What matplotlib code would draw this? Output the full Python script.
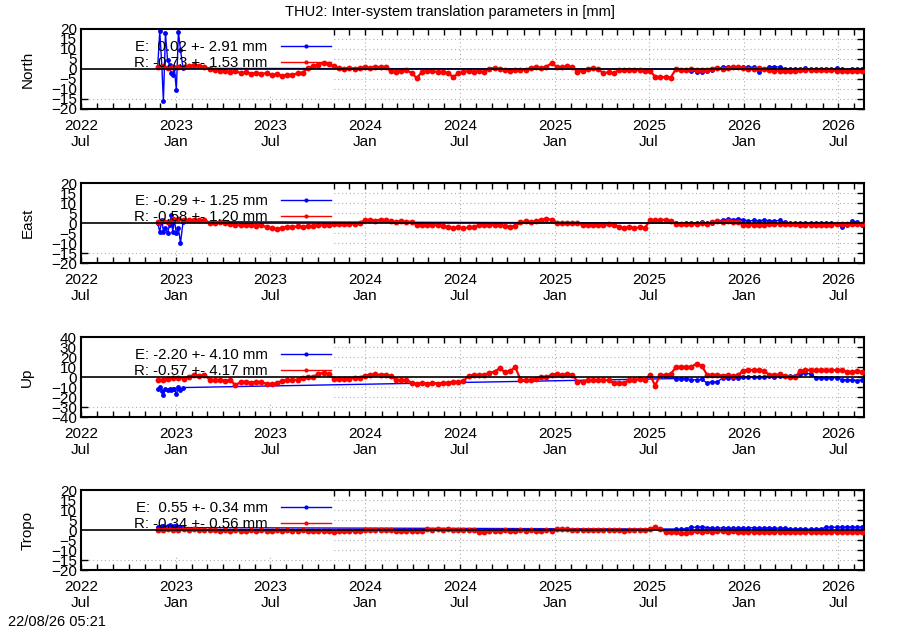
import numpy as np
import pandas as pd
import matplotlib
matplotlib.use('Agg')
import matplotlib.pyplot as plt
import matplotlib.dates as mdates
from matplotlib.patches import Rectangle
from matplotlib.lines import Line2D

plt.rcParams['font.family'] = ['Liberation Sans', 'DejaVu Sans']
plt.rcParams['font.size'] = 10.5

# --- DATI (mm) ---
r_start = '2022-11-26'        # serie R: un valore ogni 10 giorni
e_late_start = '2025-08-22'   # serie E dopo la lacuna: un valore ogni 10 giorni
e_early_dates = ['2022-11-26', '2022-11-30', '2022-12-04', '2022-12-07', '2022-12-11',
                 '2022-12-15', '2022-12-19', '2022-12-22', '2022-12-25', '2022-12-28',
                 '2023-01-01', '2023-01-05', '2023-01-09', '2023-01-14']

north_e_early = [1.0, 19.0, 1.5, -16.0, 18.0, 4.5, 2.0, -2.0, -3.0, 0.5, -10.5, 18.5, 9.5, 0.3]
north_e_late = [0.0, -0.3, -0.6, -1.0, -1.3, -1.4, -1.2, -0.4, 0.3, 0.9, 1.1, 1.0, 1.2, 0.9,
                1.1, 0.8, -1.3, -0.2, 1.0, 1.2, 0.9, 0.2, 0.0, -0.2, 0.1, 0.3, 0.0, -0.2,
                0.1, 0.2, -0.1, 0.3, 0.0, -0.3, 0.2, 0.1, -0.2]
north_r = [1.0, 1.3, 0.6, 1.1, 1.2, 0.8, 1.5, 2.0, 1.6, 1.1, 0.2, -0.3, -0.8, -1.0, -1.5,
           -1.1, -2.0, -1.6, -2.3, -1.9, -2.4, -2.1, -3.0, -2.7, -3.3, -3.0, -2.8, -2.2,
           -1.8, 0.6, 1.4, 2.2, 3.0, 2.5, 1.5, 0.4, 0.1, 0.5, 0.2, 0.6, 1.0, 0.6, 1.2, 0.9,
           1.1, -1.2, -1.5, -1.0, -0.6, -2.0, -4.5, -1.5, -1.2, -1.0, -1.6, -1.3, -2.0,
           -4.0, -2.2, -1.4, -1.0, -1.5, -1.2, -1.6, 0.2, 0.5, 0.0, -0.5, -0.8, -0.3, -0.6,
           -0.4, 0.6, 1.0, 0.5, 1.2, 2.8, 1.2, 0.8, 1.3, 0.9, -1.3, -1.0, 0.0, 0.3, -0.2,
           -2.0, -1.7, -2.2, -0.4, -0.7, -0.3, -0.6, -0.5, -0.9, -1.0, -3.8, -4.2, -4.0,
           -4.3, 0.0, -0.3, -0.5, -0.2, -0.6, -0.4, -0.3, 0.2, 0.5, 0.1, 0.4, 0.8, 1.0, 0.7,
           0.1, -0.2, 0.3, 0.0, -0.3, -1.0, -0.8, -1.2, -0.9, -1.1, -0.7, -0.5, -0.3, -0.6,
           -0.4, -0.7, -0.5, -1.0, -0.8, -1.2, -0.9, -1.1, -0.8]

east_e_early = [0.0, -4.3, 1.5, -4.3, -2.7, -5.0, -1.0, 4.0, -4.3, 1.5, -5.0, -2.7, -10.0, 0.7]
east_e_late = [0.0, -0.3, 0.2, -0.2, 0.1, 0.3, -0.1, 0.2, 0.8, 1.5, 1.9, 1.7, 2.0, 1.6, 1.0,
               1.3, 1.1, 1.4, 1.2, 1.0, 1.3, 0.3, 0.0, -0.2, 0.1, 0.2, -0.1, 0.0, 0.2, -0.2,
               0.1, -0.5, -2.0, -0.8, 1.0, 0.3, -1.0]
east_r = [0.5, 0.9, 0.6, 1.8, 2.0, 1.7, 1.4, 1.6, 1.3, 1.5, 0.2, -0.1, 0.3, 0.0, -0.4, -0.9,
          -1.2, -0.8, -1.1, -1.3, -0.9, -2.2, -2.7, -2.9, -2.5, -1.8, -2.0, -1.6, -1.9, -1.7,
          -1.5, -1.0, -1.2, -0.8, -0.5, -0.3, -0.7, -0.4, -0.6, 0.2, 1.4, 1.6, 1.2, 1.7, 1.5,
          0.8, 0.5, 0.9, 0.6, 0.7, -0.8, -1.1, -0.9, -1.2, -1.0, -1.3, -2.0, -2.4, -2.1,
          -2.6, -2.2, -1.9, -1.0, -0.8, -1.2, -0.9, -1.1, -1.4, -1.8, -1.6, 0.5, 0.8, 0.6,
          0.9, 1.6, 2.0, 1.7, 0.2, -0.1, 0.1, -0.2, 0.0, -0.9, -1.1, -0.8, -1.2, -1.0, -0.7,
          -1.1, -2.0, -2.3, -2.1, -2.5, -2.2, -2.4, 1.3, 1.6, 1.4, 1.7, 1.2, -0.4, -0.6,
          -0.3, -0.7, -0.5, -0.2, -0.6, 0.6, 0.8, 0.5, 0.9, 0.7, 0.6, -0.8, -1.1, -0.9,
          -1.2, -1.0, -0.5, -0.3, -0.6, -0.4, -0.7, -0.5, -0.8, -1.0, -0.8, -1.2, -0.9,
          -1.1, -1.0, -0.5, -0.3, -0.6, -0.4, -0.6, -0.5]

up_e_early = [-12.3, -9.7, -13.5, -18.0, -11.7, -13.0, -11.5, -12.5, -11.7, -12.0, -17.0,
              -9.7, -13.0, -10.5]
up_e_late = [-1.5, -2.0, -1.7, -2.5, -3.0, -2.2, -6.0, -4.5, -5.0, -0.7, -1.0, -0.5, -0.9,
             -0.4, 0.0, 0.3, -0.2, 0.2, 0.7, 0.5, 0.9, 0.6, 0.8, 1.0, 3.5, 3.8, 3.2, -0.7,
             -0.5, -1.0, -0.6, -0.8, -2.5, -3.0, -2.7, -3.5, -2.6]
up_r = [-3.0, -2.5, -1.8, -1.3, -0.8, -1.5, 0.5, 2.0, 1.5, 2.5, -2.5, -3.2, -2.8, -3.5, -3.0,
        -8.0, -5.0, -4.5, -5.5, -4.8, -5.2, -6.5, -7.0, -6.2, -3.5, -2.8, -3.2, -2.5, -0.5,
        0.3, 0.0, 3.5, 4.0, 3.2, -1.8, -2.2, -2.0, -1.5, -0.7, -0.5, 1.5, 2.3, 2.8, 2.0, 2.5,
        1.0, -2.8, -3.2, -3.0, -5.5, -6.5, -6.0, -6.8, -6.2, -6.5, -5.8, -6.0, -4.5, -5.0,
        -4.2, 1.5, 2.2, 1.8, 2.5, 4.0, 5.5, 8.7, 5.0, 6.0, 10.0, -2.5, -3.2, -3.0, -2.0,
        0.2, -0.3, 2.5, 3.0, 2.2, 2.8, 2.5, -4.5, -4.8, -3.0, -2.8, -3.3, -2.5, -3.2, -6.0,
        -5.5, -6.2, -2.5, -3.0, -2.2, -2.8, 2.0, -8.5, 2.5, 2.0, 2.8, 10.0, 10.5, 9.8, 10.3,
        13.5, 11.0, 2.5, 2.0, 2.3, 1.5, 1.8, 1.2, 2.0, 6.5, 7.2, 6.8, 7.0, 6.0, 2.5, 2.0,
        2.8, 1.5, 0.2, -0.3, 6.5, 7.0, 7.3, 6.8, 7.2, 7.0, 6.6, 7.1, 6.8, 5.5, 5.0, 5.8, 5.3]

tropo_e_early = [1.3, 1.6, 2.2, 1.8, 1.5, 2.0, 2.5, 1.9, 1.6, 2.1, 1.8, 1.5, 1.3, 1.2]
tropo_e_late = [0.5, 0.3, 0.6, 1.5, 1.3, 1.6, 1.2, 1.0, 0.9, 1.1, 1.0, 0.8, 1.1, 0.9, 1.0,
                1.2, 0.9, 1.0, 1.1, 0.8, 1.0, 0.9, 0.5, 0.4, 0.6, 0.5, 0.3, 0.6, 0.5, 1.4,
                1.5, 1.3, 1.6, 1.4, 1.5, 1.3, 1.5]
tropo_r = [0.2, 0.0, 0.3, -0.1, 0.2, 0.4, 0.1, 0.3, 0.0, 0.2, -0.1, 0.1, -0.3, -0.1, -0.4,
           -0.2, -0.5, -0.3, -0.1, -0.4, -0.2, -0.3, -0.5, -0.2, -0.3, -0.1, -0.4, -0.3,
           -0.2, -0.5, -0.3, -0.4, -0.6, -0.4, -0.8, -0.5, -0.7, -0.4, -0.6, -0.3, 0.0, 0.2,
           -0.1, 0.1, -0.2, 0.0, -0.5, -0.7, -0.4, -0.6, -0.3, -0.5, 0.3, 0.1, 0.4, 0.2, 0.3,
           0.0, 0.2, 0.0, -0.2, 0.1, -1.0, -0.8, -0.6, -0.3, -0.5, -0.2, -0.4, -0.3, -0.1,
           -0.4, -0.2, -0.3, -0.5, -0.2, -0.3, 0.5, 0.7, 0.3, 0.0, -0.2, 0.1, -0.1, 0.0, 0.2,
           -0.2, 0.0, -0.1, 0.1, -0.3, 0.0, -0.1, 0.2, 0.0, 0.5, 1.5, 0.4, -0.8, -1.0, -1.2,
           -1.7, -1.5, -1.2, -0.7, -0.9, -0.6, -0.8, -0.5, -0.7, -0.9, -0.6, -0.8, -1.0,
           -0.8, -1.2, -0.9, -1.1, -1.0, -0.8, -1.1, -0.9, -1.2, -1.0, -0.8, -1.1, -0.9,
           -1.0, -1.2, -0.8, -1.0, -1.1, -0.9, -1.2, -1.0, -0.9, -1.1]

names = ['North', 'East', 'Up', 'Tropo']
e_labels = ['E:  0.02 +- 2.91 mm', 'E: -0.29 +- 1.25 mm', 'E: -2.20 +- 4.10 mm', 'E:  0.55 +- 0.34 mm']
r_labels = ['R: -0.73 +- 1.53 mm', 'R: -0.58 +- 1.20 mm', 'R: -0.57 +- 4.17 mm', 'R: -0.34 +- 0.56 mm']
y_limits = [20, 20, 40, 20]
y_steps = [5, 5, 10, 5]
titolo = 'THU2: Inter-system translation parameters in [mm]'
timestamp = '22/08/26 05:21'
# -----------------------------

e_early = [north_e_early, east_e_early, up_e_early, tropo_e_early]
e_late = [north_e_late, east_e_late, up_e_late, tropo_e_late]
r_series = [north_r, east_r, up_r, tropo_r]


def date_10gg(start, values):
    return pd.date_range(start, periods=len(values), freq='10D')


fig = plt.figure(figsize=(9, 6.3), dpi=100)
bottoms = [0.827, 0.5825, 0.338, 0.0952]

for k in range(4):
    ax = fig.add_axes([0.09, bottoms[k], 0.87, 0.127])

    # serie E (blu) con la lacuna collegata da una linea
    e_dates = pd.to_datetime(e_early_dates).append(date_10gg(e_late_start, e_late[k]))
    e_vals = e_early[k] + e_late[k]
    ax.plot(e_dates, e_vals, color='blue', lw=1.0, marker='o', ms=3.5, mew=0, zorder=2)

    # serie R (rossa)
    ax.plot(date_10gg(r_start, r_series[k]), r_series[k], color='red', lw=1.6,
            marker='o', ms=4.2, mew=0, zorder=3)

    ax.axhline(0, color='black', lw=1.2, zorder=4)

    # riquadro opaco della legenda (nasconde la griglia)
    ax.add_patch(Rectangle((0, 0.19), 0.32, 0.81, transform=ax.transAxes,
                           facecolor='white', edgecolor='none', zorder=1))

    handles = [Line2D([], [], color='blue', lw=1, marker='o', ms=3, mew=0),
               Line2D([], [], color='red', lw=1, marker='o', ms=3, mew=0)]
    ax.legend(handles, [e_labels[k], r_labels[k]], loc='upper left',
              bbox_to_anchor=(0.068, 0.86), markerfirst=False, frameon=False,
              handlelength=3.3, handletextpad=0.9, labelspacing=0.12,
              borderpad=0, borderaxespad=0, fontsize=10.8)

    lim = y_limits[k]
    ax.set_ylim(-lim, lim)
    ax.set_yticks(np.arange(-lim, lim + 1, y_steps[k]))
    ax.set_xlim(pd.Timestamp('2022-07-01'), pd.Timestamp('2026-08-20'))
    ax.xaxis.set_major_locator(mdates.MonthLocator(bymonth=[1, 7]))
    ax.xaxis.set_minor_locator(mdates.MonthLocator())
    ax.xaxis.set_major_formatter(mdates.DateFormatter('%Y\n%b'))
    for lab in ax.get_xticklabels():
        lab.set_horizontalalignment('center')

    ax.set_axisbelow(True)
    ax.grid(True, which='major', color='#b0b0b0', lw=0.8, linestyle=(0, (1, 2.5)))
    ax.tick_params(axis='both', which='both', direction='in', top=True, right=True,
                   width=1, labelsize=11)
    ax.tick_params(axis='x', which='both', length=4, pad=7)
    ax.tick_params(axis='y', which='major', length=5, pad=3)
    for sp in ax.spines.values():
        sp.set_linewidth(1.5)

    ax.set_ylabel(names[k], fontsize=11, labelpad=12)

fig.text(0.5, 1 - 12 / 630, titolo, ha='center', va='center', fontsize=10.5)
fig.text(8 / 900, 1 - 622 / 630, timestamp, ha='left', va='center', fontsize=10.5)

fig.savefig('out.png', dpi=100)
